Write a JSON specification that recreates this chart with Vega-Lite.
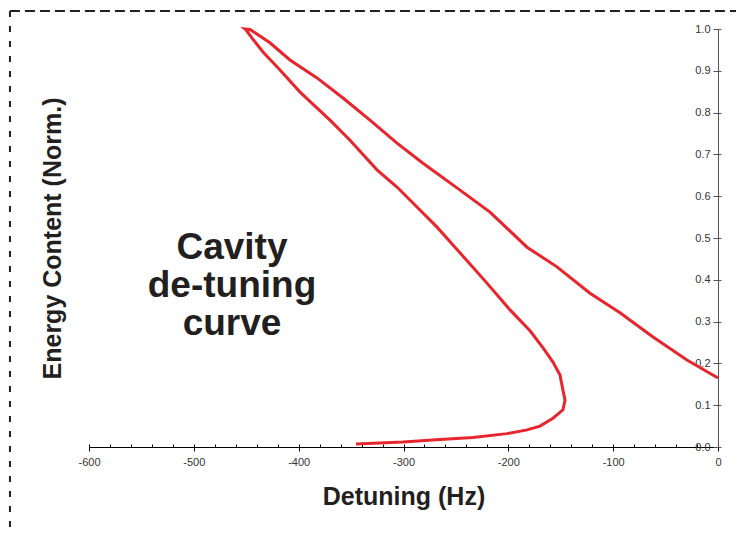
{
  "$schema": "https://vega.github.io/schema/vega-lite/v6.json",
  "width": 629,
  "height": 418,
  "autosize": {"type": "none"},
  "padding": {"left": 89, "top": 29, "right": 18, "bottom": 88},
  "background": "white",
  "config": {
    "view": {"stroke": null},
    "font": "Liberation Sans",
    "axis": {"grid": false, "labelFlush": false}
  },
  "datasets": {
    "curve": [
      {"i": 1, "detuning": -345.3, "energy": 0.007},
      {"i": 2, "detuning": -300.5, "energy": 0.012},
      {"i": 3, "detuning": -265.2, "energy": 0.018},
      {"i": 4, "detuning": -233.7, "energy": 0.023},
      {"i": 5, "detuning": -201.3, "energy": 0.032},
      {"i": 6, "detuning": -182.2, "energy": 0.041},
      {"i": 7, "detuning": -169.8, "energy": 0.05},
      {"i": 8, "detuning": -157.4, "energy": 0.069},
      {"i": 9, "detuning": -147.9, "energy": 0.089},
      {"i": 10, "detuning": -145.9, "energy": 0.112},
      {"i": 11, "detuning": -147.9, "energy": 0.136},
      {"i": 12, "detuning": -150.7, "energy": 0.172},
      {"i": 13, "detuning": -157.4, "energy": 0.203},
      {"i": 14, "detuning": -166.9, "energy": 0.237},
      {"i": 15, "detuning": -179.3, "energy": 0.278},
      {"i": 16, "detuning": -198.4, "energy": 0.328},
      {"i": 17, "detuning": -220.4, "energy": 0.392},
      {"i": 18, "detuning": -236.6, "energy": 0.438},
      {"i": 19, "detuning": -252.8, "energy": 0.483},
      {"i": 20, "detuning": -268.0, "energy": 0.526},
      {"i": 21, "detuning": -284.3, "energy": 0.567},
      {"i": 22, "detuning": -306.2, "energy": 0.622},
      {"i": 23, "detuning": -325.3, "energy": 0.663},
      {"i": 24, "detuning": -351.0, "energy": 0.734},
      {"i": 25, "detuning": -370.1, "energy": 0.782},
      {"i": 26, "detuning": -398.7, "energy": 0.849},
      {"i": 27, "detuning": -417.8, "energy": 0.902},
      {"i": 28, "detuning": -434.0, "energy": 0.945},
      {"i": 29, "detuning": -444.5, "energy": 0.978},
      {"i": 30, "detuning": -450.2, "energy": 0.998},
      {"i": 31, "detuning": -451.2, "energy": 1.0},
      {"i": 32, "detuning": -446.4, "energy": 0.999},
      {"i": 33, "detuning": -438.8, "energy": 0.986},
      {"i": 34, "detuning": -427.4, "energy": 0.967},
      {"i": 35, "detuning": -408.3, "energy": 0.926},
      {"i": 36, "detuning": -382.5, "energy": 0.883},
      {"i": 37, "detuning": -357.7, "energy": 0.835},
      {"i": 38, "detuning": -332.0, "energy": 0.782},
      {"i": 39, "detuning": -306.2, "energy": 0.727},
      {"i": 40, "detuning": -281.4, "energy": 0.679},
      {"i": 41, "detuning": -249.0, "energy": 0.62},
      {"i": 42, "detuning": -217.5, "energy": 0.562},
      {"i": 43, "detuning": -182.2, "energy": 0.478},
      {"i": 44, "detuning": -153.6, "energy": 0.431},
      {"i": 45, "detuning": -122.1, "energy": 0.368},
      {"i": 46, "detuning": -93.5, "energy": 0.321},
      {"i": 47, "detuning": -62.0, "energy": 0.263},
      {"i": 48, "detuning": -29.6, "energy": 0.208},
      {"i": 49, "detuning": 0.0, "energy": 0.165}
    ],
    "label": [
      {"detuning": -463.6, "energy": 0.476, "text": "Cavity\nde-tuning\ncurve"}
    ]
  },
  "layer": [
    {
      "data": {"name": "curve"},
      "mark": {"type": "line", "color": "#e8252c", "strokeWidth": 3, "clip": false},
      "encoding": {
        "x": {
          "field": "detuning", "type": "quantitative",
          "scale": {"domain": [-600, 0], "nice": false, "zero": false},
          "axis": {
            "orient": "bottom",
            "values": [-600, -500, -400, -300, -200, -100, 0],
            "labelExpr": "datum.value < 0 ? '-' + abs(datum.value) : '' + datum.value",
            "labelFlush": false,
            "tickSize": 4, "tickColor": "#000", "domainColor": "#000", "domainWidth": 1.2,
            "labelFontSize": 11, "labelColor": "#333", "labelPadding": 5,
            "title": "Detuning (Hz)", "titleFontSize": 25, "titleFontWeight": "bold",
            "titleColor": "#231f20", "titleY": 57, "titleBaseline": "alphabetic"
          }
        },
        "y": {
          "field": "energy", "type": "quantitative",
          "scale": {"domain": [0, 1], "nice": false},
          "axis": {
            "orient": "left", "offset": -629,
            "values": [0, 0.1, 0.2, 0.3, 0.4, 0.5, 0.6, 0.7, 0.8, 0.9, 1.0],
            "format": ".1f", "labelFlush": false, "tickSize": 5, "tickColor": "#555", "domainColor": "#555",
            "labelFontSize": 11, "labelColor": "#333", "labelPadding": 3,
            "title": "Energy Content (Norm.)", "titleFontSize": 25, "titleFontWeight": "bold",
            "titleColor": "#231f20", "titleX": -666, "titleY": 209, "titleAngle": -90,
            "titleAlign": "center", "titleBaseline": "middle"
          }
        },
        "order": {"field": "i", "type": "quantitative"}
      }
    },
    {
      "data": {"name": "label"},
      "mark": {"type": "text", "fontSize": 37, "fontWeight": "bold", "color": "#231f20",
               "align": "center", "baseline": "middle", "lineBreak": "\n", "lineHeight": 38},
      "encoding": {
        "x": {"field": "detuning", "type": "quantitative", "axis": null},
        "y": {"field": "energy", "type": "quantitative", "axis": null},
        "text": {"field": "text"}
      }
    },
    {
      "data": {"values": [{"side": "top"}]},
      "mark": {"type": "rule", "color": "#231f20", "strokeWidth": 2, "strokeDash": [10, 5], "clip": false},
      "encoding": {
        "x": {"datum": -675.4, "type": "quantitative",
          "axis": {
            "orient": "bottom",
            "values": [-600, -580, -560, -540, -520, -500, -480, -460, -440, -420, -400, -380, -360, -340, -320, -300, -280, -260, -240, -220, -200, -180, -160, -140, -120, -100, -80, -60, -40, -20, 0],
            "tickSize": -3, "tickColor": "#000", "domain": false, "labels": false, "title": null
          }
        },
        "x2": {"datum": 17.2},
        "y": {"datum": 1.0431, "type": "quantitative", "axis": null}
      }
    },
    {
      "data": {"values": [{"side": "left"}]},
      "mark": {"type": "rule", "color": "#231f20", "strokeWidth": 2, "strokeDash": [6, 9], "clip": false},
      "encoding": {
        "x": {"datum": -675.4, "type": "quantitative", "axis": null},
        "y": {"datum": 1.0431, "type": "quantitative",
          "axis": {
            "orient": "left", "offset": -629,
            "values": [0, 0.1, 0.2, 0.3, 0.4, 0.5, 0.6, 0.7, 0.8, 0.9, 1.0],
            "tickSize": -3, "tickColor": "#555", "domain": false, "labels": false, "title": null
          }
        },
        "y2": {"datum": -0.2105}
      }
    }
  ],
  "resolve": {"axis": {"x": "independent", "y": "independent"}}
}
